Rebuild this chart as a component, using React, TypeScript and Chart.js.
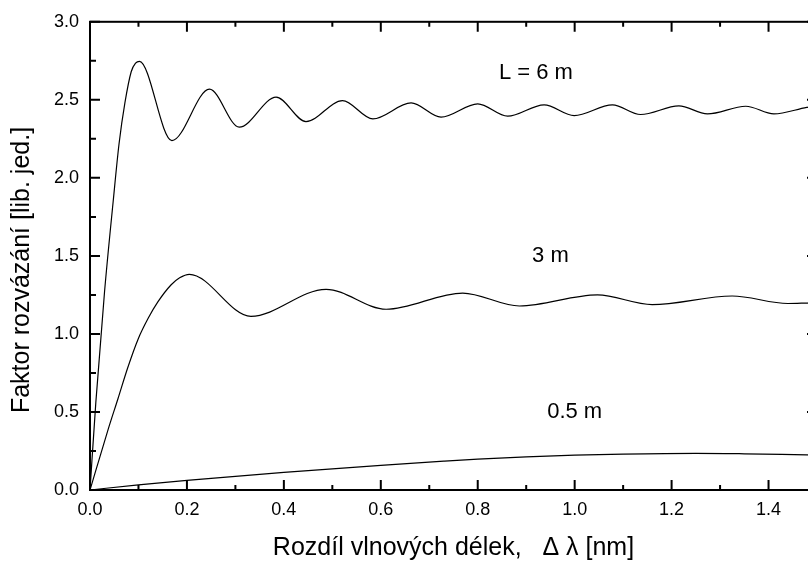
import { useEffect, useRef } from "react";
import { Chart, registerables } from "chart.js";

Chart.register(...registerables);

// ---- data ----
const xL6 = [0, 0.012, 0.03, 0.048, 0.06, 0.072, 0.085, 0.094, 0.102, 0.169, 0.2465, 0.308, 0.384, 0.4456, 0.521, 0.5836, 0.6625, 0.7243, 0.8, 0.8617, 0.937, 0.999, 1.078, 1.136, 1.215, 1.274, 1.353, 1.411, 1.479, 1.49, 1.5];
const yL6 = [0, 0.56, 1.27, 1.855, 2.22, 2.48, 2.68, 2.735, 2.747, 2.239, 2.568, 2.325, 2.517, 2.361, 2.495, 2.378, 2.48, 2.389, 2.474, 2.395, 2.468, 2.399, 2.468, 2.406, 2.461, 2.41, 2.459, 2.41, 2.452, 2.457, 2.455];

const xL3 = [0, 0.037, 0.0577, 0.078, 0.099, 0.12, 0.14, 0.1675, 0.185, 0.205, 0.332, 0.487, 0.611, 0.769, 0.886, 1.047, 1.16, 1.325, 1.44, 1.479, 1.5];
const yL3 = [0, 0.384, 0.585, 0.785, 0.965, 1.1, 1.205, 1.315, 1.36, 1.382, 1.113, 1.286, 1.158, 1.262, 1.179, 1.25, 1.188, 1.243, 1.195, 1.198, 1.2];

const xL05 = [0, 0.1, 0.2, 0.4, 0.6, 0.73, 0.8, 0.9, 1.0, 1.1, 1.25, 1.35, 1.479, 1.5];
const yL05 = [0, 0.033, 0.062, 0.113, 0.158, 0.185, 0.198, 0.212, 0.223, 0.23, 0.235, 0.232, 0.225, 0.224];

const xTickValues = [0, 0.2, 0.4, 0.6, 0.8, 1.0, 1.2, 1.4];
const xMinorTickValues = [0.1, 0.3, 0.5, 0.7, 0.9, 1.1, 1.3];
const yTickValues = [0, 0.5, 1.0, 1.5, 2.0, 2.5, 3.0];
const yMinorTickValues = [0.25, 0.75, 1.25, 1.75, 2.25, 2.75];

const curveLabels = ["L = 6 m", "3 m", "0.5 m"];
const curveLabelX = [0.92, 0.95, 1.0];
const curveLabelY = [2.675, 1.5, 0.5];

const xTitle = "Rozdíl vlnových délek,   \u0394 \u03bb [nm]";
const yTitle = "Faktor rozvázání [lib. jed.]";

const FONT = "'Liberation Sans', Arial, Helvetica, sans-serif";

const toPoints = (xs: number[], ys: number[]) => xs.map((x, i) => ({ x, y: ys[i] }));

const framePlugin = {
  id: "frameAndLabels",
  afterDraw(chart: any) {
    const { ctx, chartArea, scales } = chart;
    const { left, right, top, bottom } = chartArea;
    const x = scales.x;
    const y = scales.y;
    ctx.save();
    ctx.strokeStyle = "#000";
    ctx.lineWidth = 2;
    ctx.strokeRect(left, top, right - left, bottom - top);
    ctx.beginPath();
    const vtick = (v: number, len: number) => {
      const px = x.getPixelForValue(v);
      ctx.moveTo(px, bottom);
      ctx.lineTo(px, bottom - len);
      ctx.moveTo(px, top);
      ctx.lineTo(px, top + len);
    };
    const htick = (v: number, len: number) => {
      const py = y.getPixelForValue(v);
      ctx.moveTo(left, py);
      ctx.lineTo(left + len, py);
      ctx.moveTo(right, py);
      ctx.lineTo(right - len, py);
    };
    xTickValues.forEach((v) => vtick(v, 10));
    xMinorTickValues.forEach((v) => vtick(v, 5));
    yTickValues.forEach((v) => htick(v, 10));
    yMinorTickValues.forEach((v) => htick(v, 6));
    ctx.stroke();

    ctx.fillStyle = "#000";
    ctx.textAlign = "center";
    ctx.textBaseline = "middle";
    ctx.font = `22px ${FONT}`;
    curveLabels.forEach((t, i) => {
      ctx.fillText(t, x.getPixelForValue(curveLabelX[i]), y.getPixelForValue(curveLabelY[i]));
    });

    ctx.translate(22, 270);
    ctx.rotate(-Math.PI / 2);
    ctx.font = `25px ${FONT}`;
    ctx.fillText(yTitle, 0, 0);
    ctx.restore();
  },
};

export default function App() {
  const ref = useRef<HTMLCanvasElement | null>(null);
  useEffect(() => {
    if (!ref.current) return;
    const ds = (xs: number[], ys: number[]) => ({
      data: toPoints(xs, ys),
      borderColor: "#000",
      borderWidth: 1.2,
      pointRadius: 0,
      fill: false,
      cubicInterpolationMode: "monotone" as const,
    });
    const chart = new Chart(ref.current, {
      type: "line",
      data: {
        datasets: [ds(xL6, yL6), ds(xL3, yL3), ds(xL05, yL05)],
      },
      options: {
        animation: false,
        responsive: false,
        devicePixelRatio: 1,
        layout: { padding: { left: 0, top: 21, right: 23, bottom: 0 } },
        plugins: { legend: { display: false }, tooltip: { enabled: false } },
        scales: {
          x: {
            type: "linear",
            min: 0,
            max: 1.5,
            grid: { display: false, drawTicks: false },
            border: { display: false },
            afterBuildTicks: (s: any) => {
              s.ticks = xTickValues.map((v) => ({ value: v }));
            },
            afterFit: (s: any) => {
              s.height = 73;
            },
            ticks: {
              color: "#000",
              font: { size: 18, family: FONT },
              padding: 9,
              maxRotation: 0,
              autoSkip: false,
              callback: (v: any) => Number(v).toFixed(1),
            },
            title: {
              display: true,
              text: xTitle,
              color: "#000",
              font: { size: 25, family: FONT },
              padding: { top: 0, bottom: 0 },
            },
          },
          y: {
            type: "linear",
            min: 0,
            max: 3,
            grid: { display: false, drawTicks: false },
            border: { display: false },
            afterBuildTicks: (s: any) => {
              s.ticks = yTickValues.map((v) => ({ value: v }));
            },
            afterFit: (s: any) => {
              s.width = 90;
            },
            ticks: {
              color: "#000",
              font: { size: 18, family: FONT },
              padding: 11,
              autoSkip: false,
              callback: (v: any) => Number(v).toFixed(1),
            },
          },
        },
      },
      plugins: [framePlugin],
    });
    return () => chart.destroy();
  }, []);
  return (
    <div
      style={{
        position: "fixed",
        left: 0,
        top: 0,
        width: 808,
        height: 563,
        overflow: "hidden",
        background: "#fff",
      }}
    >
      <canvas ref={ref} width={840} height={563} style={{ display: "block" }} />
    </div>
  );
}
